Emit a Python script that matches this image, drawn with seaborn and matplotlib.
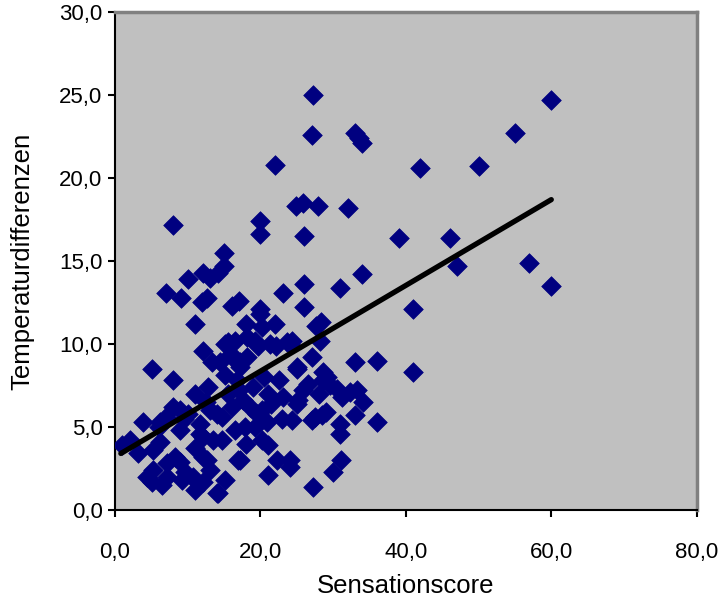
import matplotlib
matplotlib.use("Agg")
import matplotlib.pyplot as plt
import seaborn as sns
import pandas as pd
from matplotlib.ticker import FuncFormatter

sensation = [
    27.2, 60.0, 27.1, 33.0, 33.6, 34.0, 55.0, 22.0, 42.0, 50.0,
    24.9, 25.9, 27.9, 32.0, 8.0, 20.0, 20.0, 26.0, 39.0, 46.0,
    47.0, 57.0, 60.0, 34.0, 31.0, 41.0, 28.3, 15.0, 15.0, 14.2,
    12.1, 13.0, 10.0, 7.0, 9.1, 12.6, 12.0, 16.1, 17.0, 23.1,
    26.0, 26.0, 20.0, 20.0, 18.0, 22.0, 27.7, 11.0, 28.2, 24.3,
    27.1, 33.0, 36.0, 41.0, 25.0, 28.6, 29.2, 29.6, 30.5, 31.2,
    32.3, 33.3, 34.1, 33.0, 36.0, 30.9, 31.0, 28.4, 31.1, 30.0,
    27.1, 25.0, 25.2, 25.8, 27.2, 24.0, 24.0, 22.3, 21.0, 21.0,
    20.2, 17.2, 15.1, 14.2, 23.0, 24.3, 20.9, 19.2, 17.9, 16.5,
    14.7, 14.7, 16.1, 17.6, 20.2, 19.0, 21.0, 23.1, 25.0, 16.1,
    17.2, 14.4, 15.1, 15.1, 16.5, 18.1, 19.7, 21.3, 24.0, 22.2,
    23.6, 19.2, 15.6, 12.1, 13.3, 16.0, 17.2, 16.8, 18.1, 20.2,
    5.1, 8.0, 11.0, 12.8, 8.0, 3.9, 6.2, 8.9, 11.7, 12.1,
    1.0, 2.0, 3.2, 5.2, 6.2, 11.0, 12.1, 4.4, 5.2, 5.1,
    7.1, 7.1, 8.2, 8.9, 9.2, 9.6, 11.0, 11.4, 12.1, 13.0,
    10.7, 6.5, 14.0, 13.5, 12.6, 11.7, 16.9, 28.6, 27.5,
    13.0, 14.0, 12.5, 10.0, 9.0, 7.0, 6.0, 9.5, 15.5, 17.0,
    18.5, 19.5, 18.0, 20.5, 22.5, 21.5, 26.5, 28.0, 29.0,
]
temperatur = [
    25.0, 24.7, 22.6, 22.7, 22.4, 22.1, 22.7, 20.8, 20.6, 20.7,
    18.3, 18.5, 18.3, 18.2, 17.2, 17.4, 16.6, 16.5, 16.4, 16.4,
    14.7, 14.9, 13.5, 14.2, 13.4, 12.1, 11.3, 15.5, 14.7, 14.3,
    14.3, 14.0, 13.9, 13.1, 12.8, 12.8, 12.5, 12.3, 12.6, 13.1,
    13.6, 12.2, 12.1, 11.8, 11.2, 11.2, 11.1, 11.2, 10.2, 10.2,
    9.2, 8.9, 9.0, 8.3, 8.5, 8.3, 8.0, 7.5, 7.3, 6.8,
    7.1, 7.2, 6.5, 5.7, 5.3, 5.2, 4.6, 5.7, 3.0, 2.3,
    5.4, 6.4, 6.6, 7.2, 1.4, 2.6, 3.0, 3.0, 2.1, 3.9,
    4.2, 3.0, 1.8, 1.0, 5.5, 5.4, 5.3, 5.0, 5.0, 4.8,
    4.2, 5.6, 6.2, 6.6, 6.0, 7.4, 7.0, 6.8, 8.6, 9.2,
    8.6, 8.9, 8.1, 10.0, 10.2, 10.4, 9.9, 10.0, 10.0, 9.9,
    10.1, 10.2, 10.1, 9.6, 8.9, 9.4, 8.9, 7.8, 9.2, 11.0,
    8.5, 7.8, 7.0, 7.4, 6.2, 5.3, 5.3, 4.8, 5.2, 4.4,
    3.9, 4.2, 3.4, 3.6, 4.1, 3.7, 3.2, 2.0, 2.4, 1.7,
    2.0, 2.8, 3.2, 2.9, 1.8, 2.3, 1.2, 1.6, 1.7, 2.4,
    2.0, 1.5, 1.0, 4.2, 3.0, 4.6, 3.0, 7.8, 5.6,
    6.0, 5.8, 6.5, 5.8, 6.0, 5.6, 5.0, 5.5, 7.0, 7.2,
    6.2, 5.8, 4.0, 8.0, 7.8, 6.4, 7.6, 7.0, 5.9,
]
trend_x = [0.8, 60.0]
trend_y = [3.4, 18.7]

x_ticks = [0, 20, 40, 60, 80]
y_ticks = [0, 5, 10, 15, 20, 25, 30]

df = pd.DataFrame({"Sensationscore": sensation, "Temperaturdifferenzen": temperatur})
trend = pd.DataFrame({"x": trend_x, "y": trend_y})

sns.set_style("white")
plt.rcParams["font.family"] = ["Liberation Sans", "DejaVu Sans"]
plt.rcParams["text.color"] = "black"
plt.rcParams["axes.labelcolor"] = "black"
plt.rcParams["xtick.color"] = "black"
plt.rcParams["ytick.color"] = "black"

fig = plt.figure(figsize=(7.19, 6.07), dpi=100)
ax = fig.add_axes([0.16, 0.16, 0.809, 0.82])
ax.set_facecolor("#C0C0C0")

sns.scatterplot(data=df, x="Sensationscore", y="Temperaturdifferenzen", ax=ax,
                marker="D", s=100, color="#000080", edgecolor="#000080",
                linewidth=0.5, zorder=3)
sns.lineplot(data=trend, x="x", y="y", ax=ax, color="black", linewidth=3.8,
             solid_capstyle="round", zorder=4)

ax.set_xlim(0, 80)
ax.set_ylim(0, 30)
ax.set_xticks(x_ticks)
ax.set_yticks(y_ticks)
fmt = FuncFormatter(lambda v, p: f"{v:.1f}".replace(".", ","))
ax.xaxis.set_major_formatter(fmt)
ax.yaxis.set_major_formatter(fmt)
ax.tick_params(axis="both", which="major", bottom=True, left=True,
               direction="out", length=5, width=1.5, color="black",
               labelcolor="black", labelsize=16)
ax.tick_params(axis="x", pad=18)
ax.tick_params(axis="y", pad=4)

for s in ["left", "bottom"]:
    ax.spines[s].set_color("black")
    ax.spines[s].set_linewidth(1.5)
for s in ["top", "right"]:
    ax.spines[s].set_color("#808080")
    ax.spines[s].set_linewidth(2.5)

ax.set_xlabel("Sensationscore", fontsize=18.5, labelpad=8, color="black")
ax.set_ylabel("Temperaturdifferenzen", fontsize=18.5, labelpad=18, color="black")

fig.savefig("out.png", dpi=100, facecolor="white")
